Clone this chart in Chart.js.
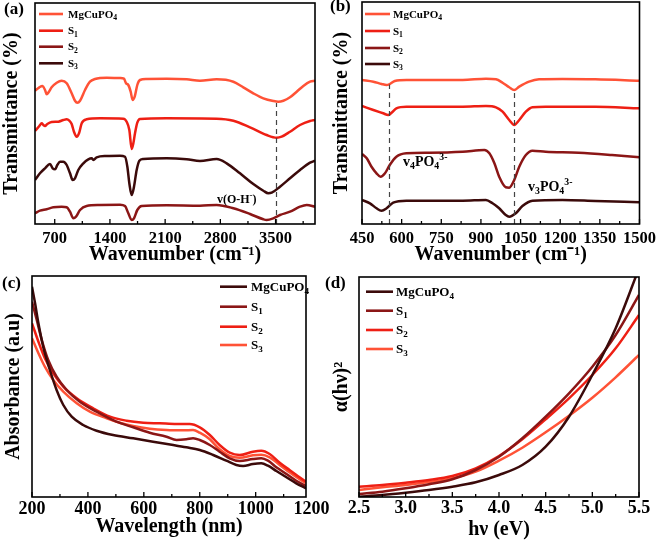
<!DOCTYPE html>
<html><head><meta charset="utf-8">
<script src="https://cdn.jsdelivr.net/npm/chart.js@4.4.1/dist/chart.umd.min.js"></script>
<style>
html,body{margin:0;padding:0;background:#fff;}
#wrap{position:relative;width:661px;height:547px;overflow:hidden;background:#fff;}
.pane{position:absolute;}
.pane canvas{display:block;}
.lbl{position:absolute;font:bold 17px "Liberation Serif","Times New Roman",serif;color:#000;line-height:1;white-space:nowrap;}
</style></head><body>
<div id="wrap">
<div class="pane" style="left:0;top:0"><canvas id="ca" width="330" height="270" style="width:330px;height:270px"></canvas></div>
<div class="pane" style="left:330px;top:0"><canvas id="cb" width="331" height="270" style="width:331px;height:270px"></canvas></div>
<div class="pane" style="left:0;top:270px"><canvas id="cc" width="330" height="277" style="width:330px;height:277px"></canvas></div>
<div class="pane" style="left:330px;top:270px"><canvas id="cd" width="331" height="277" style="width:331px;height:277px"></canvas></div>
<div class="lbl" style="left:4px;top:0px">(a)</div>
<div class="lbl" style="left:330px;top:-3px">(b)</div>
<div class="lbl" style="left:2px;top:274px">(c)</div>
<div class="lbl" style="left:325px;top:274px">(d)</div>
</div>
<script>
// ---------------- DATA ----------------
const seriesNames = ['MgCuPO\u2084', 'S\u2081', 'S\u2082', 'S\u2083'];

// (a) FTIR full range: [wavenumber, offset transmittance]
const ftirTicksA = [700, 1400, 2100, 2800, 3500];
const ftirMinorA = [1050, 1750, 2450, 3150, 3850];
const a_Mg = [[450,133.3],[505,136.7],[547,138],[577,134],[598,129.7],[627,132.3],[661,136.7],[725,141.3],[788,143.3],[852,140.7],[915,130.7],[957,123.3],[987,121.3],[1021,123.3],[1084,134],[1147,142.3],[1211,145],[1359,146.3],[1528,146],[1578,145.3],[1604,140.7],[1633,139],[1663,132.3],[1688,124],[1714,127.3],[1747,139],[1781,144],[1866,145],[2119,145.3],[2373,144.7],[2542,143.3],[2753,144.7],[2965,142.3],[3091,136.7],[3218,130.7],[3345,125.7],[3472,123],[3535,122.3],[3599,123.3],[3683,126.7],[3768,132.3],[3852,138],[3937,142.3],[4000,143.3]];
const a_S1 = [[450,93],[505,98],[535,100.7],[556,99],[577,98],[606,100],[661,102],[746,102.3],[809,104],[852,104.7],[885,103.3],[915,100],[944,92.3],[978,87.3],[1008,90.7],[1042,100.7],[1105,104.7],[1274,105.7],[1570,105.3],[1612,102.3],[1646,94],[1676,75],[1697,80.7],[1718,90.7],[1747,101.3],[1781,105],[2119,105.7],[2753,105.3],[2965,103.3],[3176,96.7],[3387,89],[3514,86.3],[3577,87.3],[3683,92.3],[3810,99],[3937,103],[4000,104]];
const a_S2 = [[450,10.7],[513,13.3],[598,14.7],[682,16.7],[788,17.3],[852,16.7],[894,12.3],[936,5.7],[970,7.3],[1021,14],[1105,18],[1274,19],[1528,19.3],[1591,18],[1633,10.7],[1676,4],[1705,5.7],[1747,14],[1802,18],[2119,18.7],[2542,18.3],[2753,19],[2965,15.7],[3176,10],[3345,4.7],[3387,4],[3472,5.7],[3556,9],[3683,12.3],[3810,17.3],[3895,19],[4000,17.3]];
const a_S3 = [[450,44],[513,50.7],[577,55.7],[640,60],[674,55.7],[704,54.7],[733,59],[767,62.3],[809,62.3],[852,59],[894,50.7],[928,44],[957,45.7],[999,54],[1063,60.7],[1126,64.7],[1169,65.7],[1190,64],[1232,66.7],[1359,68],[1528,68.3],[1591,67.3],[1621,57.3],[1646,40.7],[1676,29],[1705,37.3],[1739,54],[1773,63.3],[1823,65],[2119,65.7],[2373,64.7],[2542,63],[2753,65],[2880,60.7],[3049,50.7],[3218,40],[3345,33.3],[3408,30.7],[3451,31.3],[3556,37.3],[3683,45.7],[3810,54],[3937,61.3],[4000,63.3]];
const dashA = [[3500, 0, 121]];

// (b) FTIR low range
const ftirTicksB = [450, 600, 750, 900, 1050, 1200, 1350, 1500];
const ftirMinorB = [525, 675, 825, 975, 1125, 1275, 1425];
const b_Mg = [[450,144],[493,142.3],[524,140],[543,139],[553,139.7],[574,143],[618,144],[831,144],[919,145.3],[957,144.7],[982,141.3],[1007,136.7],[1026,134],[1045,137.3],[1082,142.3],[1120,144.7],[1208,145],[1333,144.7],[1500,143.3]];
const b_S1 = [[450,118],[493,114],[530,110.7],[549,109],[562,111.3],[580,115.7],[618,117.3],[831,117.3],[919,118],[957,116.7],[982,112.3],[1007,104],[1026,99],[1045,104],[1070,112.3],[1095,116.7],[1145,117.3],[1333,117.3],[1500,115.7]];
const b_S2 = [[450,70],[468,65.7],[486,57.3],[505,50.7],[520,47.3],[537,50.7],[555,59],[580,67.3],[618,70.7],[706,71.3],[831,72.3],[913,74],[932,70.7],[951,60.7],[969,47.3],[994,36.7],[1007,36.3],[1026,44],[1045,57.3],[1070,69],[1095,73.3],[1145,72.3],[1270,71.3],[1396,69],[1500,66.7]];
const b_S3 = [[450,24],[480,20.7],[505,15.7],[524,13.3],[543,15.7],[568,21.3],[618,23.3],[831,23.3],[919,24],[944,20.7],[969,15.7],[994,9],[1007,7.3],[1032,10.7],[1057,18],[1095,23.3],[1208,24],[1333,23],[1500,21.7]];
const dashB = [[553, 0, 139.5], [1026, 0, 134]];

// (c) UV-Vis absorbance
const uvTicks = [200, 400, 600, 800, 1000];
const uvMinor = [300, 500, 700, 900, 1100];
const c_Mg = [[200,210.3],[211,193.7],[223,173.7],[240,150.3],[264,127],[288,107],[312,92],[342,80.3],[383,72],[431,66.3],[490,62],[562,58.7],[633,55.3],[705,52],[752,49.7],[800,47],[848,42],[895,36.3],[931,32],[955,31],[990,33],[1020,33.7],[1044,31.3],[1074,26],[1110,19.7],[1145,13.7],[1180,8.7]];
const c_S1 = [[200,195.3],[217,177],[235,157],[258,137],[288,120.3],[324,107],[371,95.3],[431,85.3],[502,75.3],[562,69.7],[621,64.3],[681,60.3],[717,57],[752,57.7],[776,58.7],[800,57],[836,52],[871,45.3],[907,38.7],[943,36],[990,38],[1020,38.7],[1044,36.3],[1074,29.7],[1110,23],[1145,16.3],[1180,11]];
const c_S2 = [[200,173.7],[223,155.3],[246,138.7],[276,123.7],[312,110.3],[360,98.7],[419,88.7],[479,80.3],[538,76.3],[598,74.3],[657,73.7],[717,73],[764,73],[800,69.7],[836,62],[871,52],[907,44.3],[943,42],[990,45.3],[1020,46.3],[1050,43],[1086,34.3],[1121,27],[1157,19.7],[1180,15.3]];
const c_S3 = [[200,158.7],[223,143.7],[246,130.3],[276,117],[312,105.3],[360,93.7],[407,85.3],[467,78.7],[514,74.3],[562,71],[621,68.3],[681,67],[740,66.7],[776,67],[800,64.3],[836,57.7],[871,47.7],[907,41],[943,39.3],[990,41.7],[1020,42.3],[1050,39.7],[1086,32],[1121,24.7],[1157,17.7],[1180,13.7]];

// (d) Tauc plot
const taucE = [2.5, 2.75, 3.0, 3.25, 3.5, 3.75, 4.0, 4.25, 4.5, 4.75, 5.0, 5.25, 5.5];
const taucTicks = [2.5, 3.0, 3.5, 4.0, 4.5, 5.0, 5.5];
const taucMinor = [2.75, 3.25, 3.75, 4.25, 4.75, 5.25];
const d_Mg = [0.3, 2, 4.3, 7, 10.3, 14.7, 22, 32, 50.3, 80.3, 122, 168.7, 228.7];
const d_S1 = [3, 5.3, 8.7, 12.7, 17.7, 27, 40.3, 58.7, 80.3, 103.7, 130.3, 162, 202];
const d_S2 = [10.3, 12, 14.3, 17, 21, 28.7, 41, 57.7, 77.7, 98.7, 122, 148.7, 182];
const d_S3 = [7, 9.7, 12, 15, 18.7, 25.3, 36.3, 49.3, 64.7, 81.3, 99.3, 119.7, 142];

// ---------------- STYLE ----------------
const F = '"Liberation Serif","Times New Roman",Times,serif';
const COL = {orange:'#FF5236', red:'#EE1F14', maroon:'#8B1616', dark:'#3B0A0A'};
const legendParts = [[['MgCuPO',''],['4','sub']],[['S',''],['1','sub']],[['S',''],['2','sub']],[['S',''],['3','sub']]];

function drawRich(ctx, x, y, parts, size) {
  const segs = parts.map(([t,k]) => {
    const s = k ? size*0.7 : size;
    ctx.font = `bold ${s}px ${F}`;
    return {t, k, s, w: ctx.measureText(t).width};
  });
  let cx = x;
  ctx.textAlign = 'left'; ctx.textBaseline = 'alphabetic';
  segs.forEach(sg => {
    ctx.font = `bold ${sg.s}px ${F}`;
    const dy = sg.k === 'sub' ? size*0.22 : sg.k === 'sup' ? -size*0.42 : 0;
    ctx.fillText(sg.t, cx, y + dy);
    cx += sg.w;
  });
}

const framePlugin = {
  id: 'frame',
  afterDatasetsDraw(chart, args, o) {
    const {ctx, chartArea: a} = chart;
    const xs = chart.scales.x, ys = chart.scales.y;
    ctx.save();
    (o.dashes || []).forEach(d => {
      ctx.setLineDash([5, 4]); ctx.lineWidth = 1.2; ctx.strokeStyle = '#444';
      const px = Math.round(xs.getPixelForValue(d[0])) + 0.5;
      ctx.beginPath(); ctx.moveTo(px, ys.getPixelForValue(d[1])); ctx.lineTo(px, ys.getPixelForValue(d[2])); ctx.stroke();
    });
    ctx.setLineDash([]);
    ctx.strokeStyle = '#000'; ctx.lineWidth = 1.6;
    ctx.strokeRect(a.left, a.top, a.right - a.left, a.bottom - a.top);
    ctx.lineWidth = 1.3;
    const tick = (v, len) => { const px = xs.getPixelForValue(v); ctx.beginPath(); ctx.moveTo(px, a.bottom); ctx.lineTo(px, a.bottom - len); ctx.stroke(); };
    o.major.forEach(v => tick(v, 5));
    o.minor.forEach(v => tick(v, 3));
    (o.extra || []).forEach(e => {
      ctx.font = `bold ${e.size}px ${F}`; ctx.textAlign = 'center'; ctx.textBaseline = 'middle'; ctx.fillStyle = '#000';
      ctx.fillText(e.text, xs.getPixelForValue(e.v), a.bottom + e.pad + e.size*0.6);
    });
    const L = o.legend;
    chart.data.datasets.forEach((ds, i) => {
      const y = L.ys[i];
      ctx.strokeStyle = ds.borderColor; ctx.lineWidth = 2.6;
      ctx.beginPath(); ctx.moveTo(L.x0, y); ctx.lineTo(L.x1, y); ctx.stroke();
      ctx.fillStyle = '#000';
      drawRich(ctx, L.tx, y + L.size*0.34, legendParts[i], L.size);
    });
    (o.notes || []).forEach(n => { ctx.fillStyle = '#000'; drawRich(ctx, n.x, n.y, n.parts, n.size); });
    ctx.restore();
  }
};

function makeChart(id, c) {
  return new Chart(document.getElementById(id), {
    type: 'line',
    data: {
      datasets: c.series.map((s, i) => ({
        label: seriesNames[i],
        data: s,
        borderColor: c.colors[i],
        borderWidth: 2.5,
        pointRadius: 0,
        fill: false,
        cubicInterpolationMode: 'monotone'
      }))
    },
    options: {
      responsive: false, animation: false, devicePixelRatio: 1,
      layout: {padding: c.pad},
      plugins: {legend: {display: false}, tooltip: {enabled: false}, frame: c.frame},
      scales: {
        x: {
          type: 'linear', min: c.xmin, max: c.xmax,
          grid: {display: false, drawTicks: false}, border: {display: false},
          ticks: {font: {family: F, size: c.tickSize, weight: 'bold', lineHeight: 1.2}, color: '#000', padding: c.tickPad,
                  autoSkip: false, maxRotation: 0, minRotation: 0, callback: c.fmt},
          afterBuildTicks: s => { s.ticks = c.frame.major.map(v => ({value: v})); },
          afterFit: s => { s.height = c.xH; },
          title: {display: true, text: c.xTitle, color: '#000', font: {family: F, size: c.titleSize, weight: 'bold', lineHeight: 1.2}, padding: {top: 0, bottom: c.xTitlePad}}
        },
        y: {
          min: 0, max: c.ymax,
          grid: {display: false, drawTicks: false}, border: {display: false},
          ticks: {display: false},
          afterFit: s => { s.width = c.yW; },
          title: {display: true, text: c.yTitle, color: '#000', font: {family: F, size: c.yTitleSize || c.titleSize, weight: 'bold', lineHeight: 1.2}, padding: {top: c.yTitlePad, bottom: 0}}
        }
      }
    },
    plugins: [framePlugin]
  });
}

const pairs = arr => arr.map(p => ({x: p[0], y: p[1]}));
const intFmt = v => String(v);

makeChart('ca', {
  series: [a_Mg, a_S1, a_S2, a_S3].map(pairs),
  colors: [COL.orange, COL.red, COL.maroon, COL.dark],
  pad: {left: 0, top: 3, right: 15, bottom: 0},
  xmin: 450, xmax: 4000, ymax: 221, yW: 35, xH: 46,
  tickSize: 16.5, tickPad: 5, titleSize: 20, xTitlePad: 3.5, yTitlePad: 0, fmt: intFmt,
  xTitle: 'Wavenumber (cm\u207B\u00B9)', yTitle: 'Transmittance (%)', yTitleSize: 20,
  frame: {major: ftirTicksA, minor: ftirMinorA, dashes: dashA,
    legend: {x0: 39, x1: 63, tx: 68, ys: [14, 30.7, 46.7, 63.3], size: 11},
    notes: [{x: 217, y: 203, size: 12, parts: [['v(O-H',''],['-','sup'],[')','']]}]}
});

makeChart('cb', {
  series: [b_Mg, b_S1, b_S2, b_S3].map(pairs),
  colors: [COL.orange, COL.red, COL.maroon, COL.dark],
  pad: {left: 0, top: 2, right: 20, bottom: 0},
  xmin: 450, xmax: 1500, ymax: 222, yW: 32, xH: 46,
  tickSize: 16.5, tickPad: 5, titleSize: 20, xTitlePad: 3.5, yTitlePad: 0, fmt: intFmt,
  xTitle: 'Wavenumber (cm\u207B\u00B9)', yTitle: 'Transmittance (%)', yTitleSize: 20,
  frame: {major: ftirTicksB, minor: ftirMinorB, dashes: dashB,
    legend: {x0: 35, x1: 60, tx: 63, ys: [14, 31, 48, 64], size: 11},
    notes: [
      {x: 73, y: 166, size: 14, parts: [['v',''],['4','sub'],['PO',''],['4','sub'],['3-','sup']]},
      {x: 198, y: 191, size: 14, parts: [['v',''],['3','sub'],['PO',''],['4','sub'],['3-','sup']]}
    ]}
});

makeChart('cc', {
  series: [c_Mg, c_S1, c_S2, c_S3].map(pairs),
  colors: [COL.dark, COL.maroon, COL.red, COL.orange],
  pad: {left: 0, top: 6, right: 24, bottom: 0},
  xmin: 200, xmax: 1180, ymax: 221, yW: 32, xH: 50,
  tickSize: 18, tickPad: 1.5, titleSize: 20, xTitlePad: 8, yTitlePad: 1.5, fmt: intFmt,
  xTitle: 'Wavelength (nm)', yTitle: 'Absorbance (a.u)',
  frame: {major: uvTicks, minor: uvMinor, extra: [{v: 1200, text: '1200', size: 18, pad: 1.5}],
    legend: {x0: 220, x1: 247, tx: 251, ys: [16.7, 36.7, 56.7, 75], size: 13}}
});

makeChart('cd', {
  series: [d_Mg, d_S1, d_S2, d_S3].map(ys => ys.map((y, i) => ({x: taucE[i], y}))),
  colors: [COL.dark, COL.maroon, COL.red, COL.orange],
  pad: {left: 0, top: 7, right: 22, bottom: 0},
  xmin: 2.5, xmax: 5.5, ymax: 220, yW: 29, xH: 50,
  tickSize: 18, tickPad: 1, titleSize: 20, xTitlePad: 5, yTitlePad: 0, fmt: v => Number(v).toFixed(1),
  xTitle: 'h\u03BD (eV)', yTitle: '\u03B1(h\u03BD)\u00B2',
  frame: {major: taucTicks, minor: taucMinor,
    legend: {x0: 36, x1: 63, tx: 66, ys: [21.7, 40.7, 60, 79], size: 13}}
});
</script>
</body></html>
